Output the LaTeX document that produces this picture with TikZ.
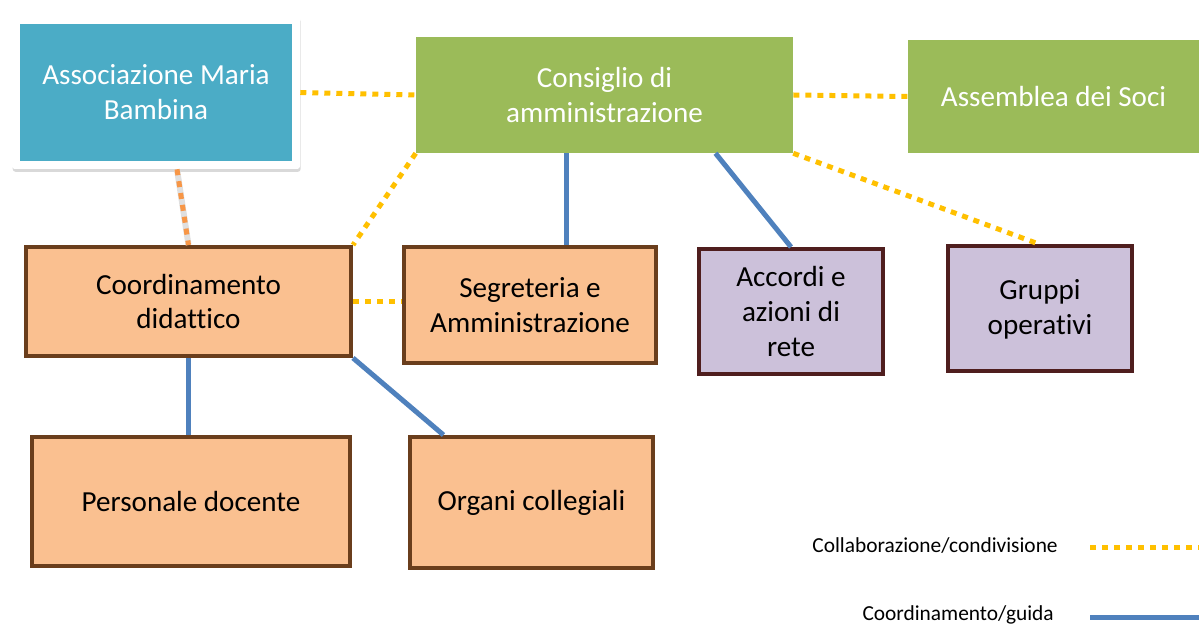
\documentclass[tikz,border=0pt]{standalone}
\usepackage{fontspec}
\setmainfont{Carlito}[Ligatures=NoCommon]
\usetikzlibrary{calc,shadows}

\definecolor{azz}{HTML}{4BACC6}
\definecolor{verde}{HTML}{9BBB59}
\definecolor{pesca}{HTML}{FAC090}
\definecolor{marrone}{HTML}{6A3E1C}
\definecolor{lilla}{HTML}{CCC1DA}
\definecolor{bordeaux}{HTML}{4F1E1E}
\definecolor{giallo}{HTML}{FFC000}
\definecolor{arancio}{HTML}{F79646}
\definecolor{blu}{HTML}{4F81BD}

\begin{document}
\begin{tikzpicture}[x=0.025cm,y=-0.025cm,
	box/.style={rectangle,align=center,inner sep=0pt,font=\fontsize{20.7}{24.8}\selectfont},
	verdebox/.style={box,fill=verde,text=white},
	pescabox/.style={box,fill=pesca,draw=marrone,line width=0.1cm},
	lillabox/.style={box,fill=lilla,draw=bordeaux,line width=0.1cm},
	coll/.style={giallo,line width=0.125cm,dash pattern=on 0.15cm off 0.15cm},
	guida/.style={blu,line width=0.125cm},
	legenda/.style={anchor=east,inner sep=0pt,font=\fontsize{15.2}{18}\selectfont}]
\def\p{0.025cm}
\useasboundingbox (0,0) rectangle (1199,628);

\node[box,text=white,fill=white,rounded corners=2pt,
	drop shadow={shadow xshift=0.5pt,shadow yshift=-2pt,opacity=0.3},
	minimum width=288*\p,minimum height=153*\p,
	path picture={\fill[azz,sharp corners]([shift={(0.2cm,0.2cm)}]path picture bounding box.south west) rectangle ([shift={(-0.2cm,-0.2cm)}]path picture bounding box.north east);}]
	(amb) at (156,92.5) {Associazione Maria\\Bambina};
\node[verdebox,minimum width=377*\p,minimum height=116*\p] (cda) at (604.5,95) {Consiglio di\\amministrazione};
\node[verdebox,minimum width=291*\p,minimum height=113*\p] (ass) at (1053.5,96.5) {Assemblea dei Soci};

\foreach \x/\y/\w/\h/\n/\t in {188.5/301.5/325/109/cd/{Coordinamento\\didattico},530/305/252/116/seg/{Segreteria e\\Amministrazione},191/501.5/318/129/pd/{Personale docente},531.5/502.5/243/131/oc/{Organi collegiali}}
	\node[pescabox,minimum width=\w*\p,minimum height=\h*\p] (\n) at (\x,\y) {\t};
\foreach \x/\y/\n/\t in {791/311.5/rete/{Accordi e\\azioni di\\rete},1040/309/go/{Gruppi\\operativi}}
	\node[lillabox,minimum width=184*\p,minimum height=125*\p] (\n) at (\x,\y) {\t};

\draw[gray!25,line width=0.15cm]([xshift=21*\p]amb.south)--(cd.north);
\draw[arancio,line width=0.125cm,dash pattern=on 0.15cm off 0.15cm]([xshift=21*\p]amb.south)--(cd.north);
\draw[coll](amb.east)--(cda.west);
\draw[coll](cda.east)--(ass.west);
\draw[coll](cda.south west)--(cd.north east);
\draw[coll](cda.south east)--(go.north);
\draw[coll](cd.east)--(cd.east -| seg.west);
\draw[guida]([xshift=36*\p]seg.north)--([xshift=36*\p]seg.north |- cda.south);
\draw[guida]([xshift=111*\p]cda.south)--(rete.north);
\draw[guida](cd.south)--(cd.south |- pd.north);
\draw[guida](cd.south east)--([xshift=-88*\p]oc.north);

\node[legenda] (lc) at (1058,546) {Collaborazione/condivisione};
\node[legenda] (lg) at (1054,615) {Coordinamento/guida};
\coordinate (c1) at (1090,548);
\coordinate (c2) at (1199,548);
\coordinate (g1) at (1090,618);
\coordinate (g2) at (1199,618);
\draw[coll](c1)--(c2);
\draw[guida](g1)--(g2);
\end{tikzpicture}
\end{document}
